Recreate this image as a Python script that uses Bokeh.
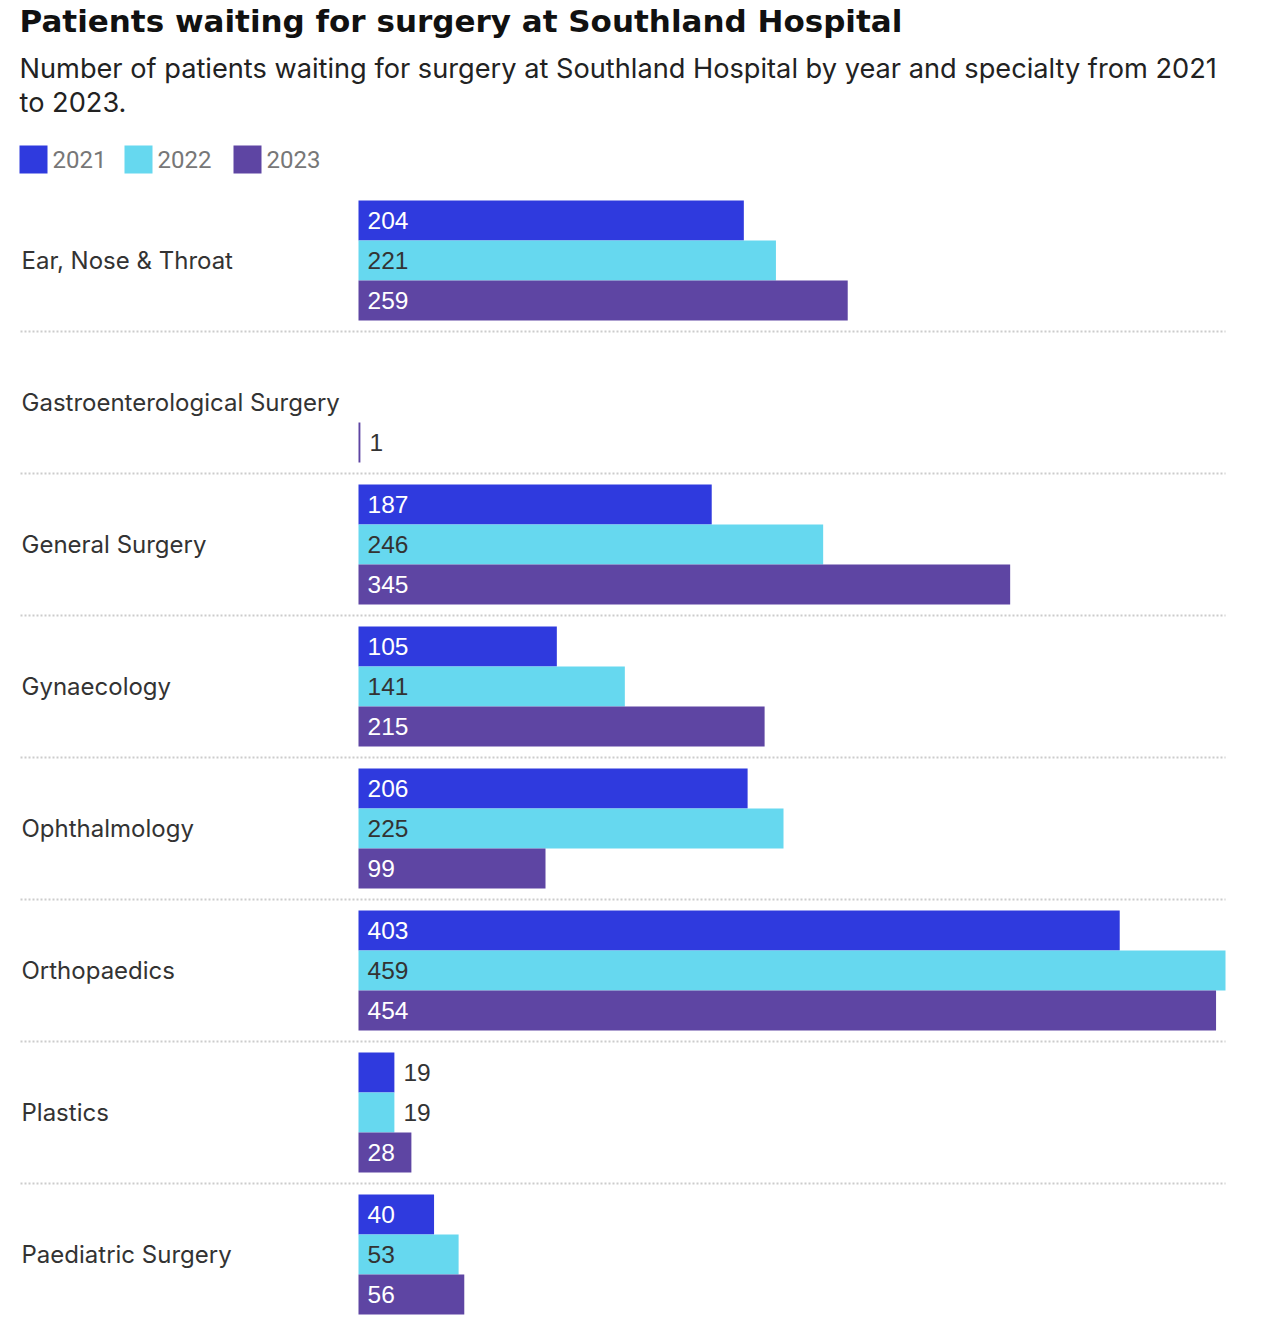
from bokeh.plotting import figure
from bokeh.models import Range1d
from bokeh.core.properties import value
from bokeh.embed import file_html
from bokeh.resources import INLINE

categories = ["Ear, Nose & Throat", "Gastroenterological Surgery", "General Surgery",
              "Gynaecology", "Ophthalmology", "Orthopaedics", "Plastics", "Paediatric Surgery"]
years = ["2021", "2022", "2023"]
v2021 = [204, None, 187, 105, 206, 403, 19, 40]
v2022 = [221, None, 246, 141, 225, 459, 19, 53]
v2023 = [259, 1, 345, 215, 99, 454, 28, 56]
colors = ["#2f3ade", "#66d8ef", "#5e45a3"]
inside_text_colors = ["white", "#333333", "white"]

title = "Patients waiting for surgery at Southland Hospital"
subtitle = ["Number of patients waiting for surgery at Southland Hospital by year and specialty from 2021",
            "to 2023."]

W, H = 1273, 1319
x0_px = 358            # pixel where value 0 sits
xmax_px = 1225         # pixel where the max value sits
series = [v2021, v2022, v2023]
vmax = max(v for s in series for v in s if v is not None)
k = (xmax_px - x0_px) / vmax


def px2x(px):
    return (px - x0_px) / k


p = figure(width=W, height=H, output_backend="svg", toolbar_location=None,
           x_range=Range1d(px2x(0), px2x(W)), y_range=Range1d(H, 0),
           min_border=0, outline_line_color=None)
p.xaxis.visible = False
p.yaxis.visible = False
p.grid.visible = False

# header
p.text(x=[px2x(19)], y=[20], text=[title], text_font=value("DejaVu Sans"), text_font_style="bold",
       text_font_size="31px", text_color="#111111", text_baseline="middle")
p.text(x=[px2x(19)] * 2, y=[68, 102], text=subtitle, text_font=value("Inter"),
       text_font_size="27.2px", text_color="#222222", text_baseline="middle")
leg_x = [19, 124, 233]
for i, yr in enumerate(years):
    p.rect(x=[px2x(leg_x[i] + 14)], y=[159], width=28 / k, height=28,
           fill_color=colors[i], line_color=None)
    p.text(x=[px2x(leg_x[i] + 33)], y=[159], text=[yr], text_font=value("Roboto"),
           text_font_size="24px", text_color="#777777", text_baseline="middle")

top0 = 189
pitch = 142
pad = 11
bar_h = 40

# category labels
p.text(x=[px2x(21)] * len(categories), y=[top0 + i * pitch + pitch / 2 for i in range(len(categories))],
       text=categories, text_font=value("Inter"), text_font_size="24px",
       text_color="#333333", text_baseline="middle")

# separators
seps = [top0 + (i + 1) * pitch for i in range(len(categories) - 1)]
p.segment(x0=[px2x(20)] * len(seps), x1=[px2x(1225)] * len(seps), y0=seps, y1=seps,
          line_color="#cccccc", line_width=2, line_dash="2 2")

for j, s in enumerate(series):
    ys, vals = [], []
    lx, ly, lt, lc = [], [], [], []
    for i, v in enumerate(s):
        if v is None:
            continue
        yc = top0 + i * pitch + pad + j * bar_h + bar_h / 2
        ys.append(yc)
        vals.append(v)
        txt = str(v)
        tw = len(txt) * 13.5
        if v * k >= tw + 20:
            lx.append(px2x(x0_px + 9))
            lc.append(inside_text_colors[j])
        else:
            lx.append(v + 9 / k)
            lc.append("#333333")
        ly.append(yc)
        lt.append(txt)
    p.hbar(y=ys, left=0, right=vals, height=bar_h, fill_color=colors[j], line_color=None)
    p.text(x=lx, y=ly, text=lt, text_color=lc, text_font=value("Liberation Sans"),
           text_font_size="24.5px", text_baseline="middle")

open("out.html", "w").write(file_html(p, INLINE))
